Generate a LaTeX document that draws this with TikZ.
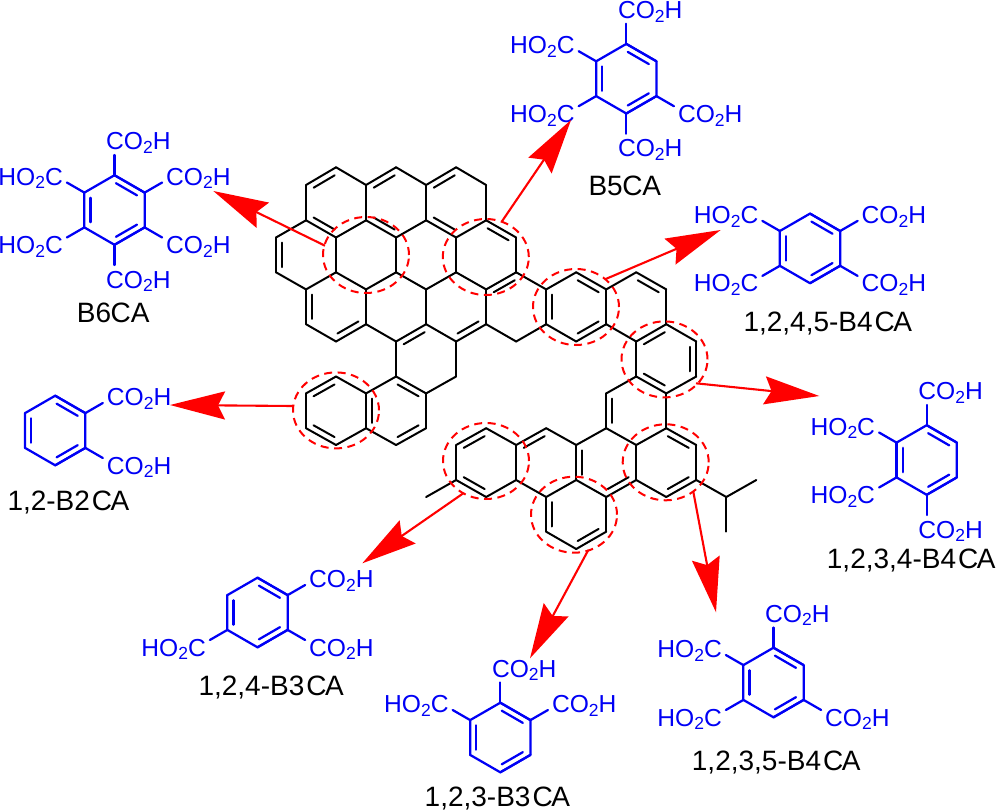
\documentclass[tikz,border=0pt]{standalone}
\usepackage{fontspec}
\setmainfont{Liberation Sans}
\usetikzlibrary{calc,arrows.meta,shapes.geometric}
\definecolor{acidblue}{RGB}{0,0,245}
\definecolor{markred}{RGB}{255,0,0}
\newcommand\cooh{CO\lower3.8pt\hbox{\fontsize{17.5}{17.5}\selectfont 2}H}
\newcommand\hooc{HO\lower3.8pt\hbox{\fontsize{17.5}{17.5}\selectfont 2}C}
\newcommand\ca{\kern2pt C\kern-1.5pt A}
\tikzset{
  bondk/.style={line width=2pt,line cap=round,line join=round,black},
  ringbond/.style={line width=2.25pt,line cap=round,line join=round,acidblue},
  acid/.style={text=acidblue,inner sep=0pt,font=\fontsize{24.6}{24.6}\selectfont},
  lab/.style={text=black,inner sep=0pt,anchor=base west,font=\fontsize{28}{28}\selectfont},
  marker/.style={draw=markred,ellipse,line width=2pt,dash pattern=on 8pt off 5.5pt,minimum width=86pt,minimum height=76pt,inner sep=0pt},
  pointer/.style={draw=markred,line width=2.1pt,-{Stealth[length=55pt,width=28pt,inset=7pt,fill=markred]}}
}
\newcommand\dbl[3][bondk]{%
  \draw[#1] (#2) -- (#3);
  \draw[#1] ($(#2)!.15!(#3)!6.2pt!90:(#3)$) -- ($(#3)!.15!(#2)!6.2pt!-90:(#2)$);}
\newcommand\benzene[3]{% name, cx, cy
  \coordinate (#1) at (#2,#3);
  \foreach \k/\ang in {0/90,1/30,2/-30,3/-90,4/-150,5/150}{
    \coordinate (#1-\k) at ($(#1)+(\ang:34.8pt)$);
    \coordinate (#1-s\k) at ($(#1)+(\ang:55pt)$);
  }
  \draw[ringbond] (#1-0) -- (#1-1) -- (#1-2) -- (#1-3) -- (#1-4) -- (#1-5) -- cycle;
  \dbl[ringbond]{#1-1}{#1-0}
  \dbl[ringbond]{#1-3}{#1-2}
  \dbl[ringbond]{#1-5}{#1-4}
}
\newcommand\acidgroup[2]{%
  \pgfmathsetmacro\gx{{-8.5,51.5,51.5,-8.5,-51.5,-51.5}[#2]}
  \pgfmathsetmacro\gy{{-60.5,-25,43.5,78,43.5,-25}[#2]}
  \ifnum#2<4
    \node[acid,anchor=base west] (#1-t#2) at ($(#1)+(\gx,\gy)$) {\cooh};
  \else
    \node[acid,anchor=base east] (#1-t#2) at ($(#1)+(\gx,\gy)$) {\hooc};
  \fi
  \draw[ringbond] (#1-#2) -- (#1-s#2);
}
\begin{document}
\begin{tikzpicture}[x=1pt,y=-1pt]
\useasboundingbox (0,0) rectangle (998,811);
% lattice of the large molecule
\foreach \j/\yy in {0/167.3,1/185,2/220.3,3/237.5,4/272.3,5/289.4,6/324.2,7/341.5,8/376.5,9/393.4,10/428.2,11/445,12/480,13/497,14/531.7,15/549}{
  \foreach \i in {0,...,16}{
    \pgfmathsetmacro\xx{276+30.02*\i}
    \coordinate (v-\i-\j) at (\xx,\yy);
  }
}
\foreach \a/\b in {2-0/3-1,3-1/3-2,1-1/1-2,2-3/3-2,2-3/2-4,4-0/5-1,5-1/5-2,5-2/4-3,4-3/4-4,6-0/7-1,7-1/7-2,7-2/6-3,6-3/6-4,
  0-3/1-2,0-4/1-5,1-5/2-4,2-4/3-5,3-5/4-4,4-4/5-5,5-5/6-4,6-4/7-5,8-3/8-4,8-4/9-5,9-6/8-7,8-7/7-6,7-6/7-5,
  1-6/2-7,3-6/3-5,3-6/4-7,5-6/5-5,5-6/6-7,4-7/4-8,6-7/6-8,5-9/6-8,4-8/3-9,3-10/4-11,5-10/5-9,3-9/2-8,3-10/2-11,1-10/1-9,
  9-5/10-4,11-5/11-6,10-7/9-6,11-5/12-4,13-5/13-6,12-7/11-6,13-6/14-7,14-8/13-9,12-8/12-7,12-8/11-9,13-9/13-10,11-10/12-11,12-11/13-10,14-11/14-12,13-13/12-12,12-12/12-11,14-12/15-13,15-13/16-12,15-13/15-14,11-10/10-11,10-12/11-13,10-11/9-10,8-11/7-10,6-11/6-12,7-13/8-12,8-12/8-11,6-12/5-13,8-12/9-13,9-13/10-12,9-14/10-15,11-14/11-13}{
  \draw[bondk] (v-\a) -- (v-\b);
}
\foreach \a/\b in {2-0/1-1,1-2/2-3,4-0/3-1,3-2/4-3,6-0/5-1,5-2/6-3,0-3/0-4,8-3/7-2,8-4/7-5,9-5/9-6,1-5/1-6,2-7/3-6,5-6/4-7,6-7/7-6,5-9/4-8,3-9/3-10,4-11/5-10,2-8/1-9,1-10/2-11,
  11-5/10-4,10-7/11-6,13-5/12-4,13-6/12-7,14-8/14-7,12-8/13-9,11-9/11-10,14-11/13-10,13-13/14-12,10-11/10-12,11-13/12-12,9-10/8-11,7-10/6-11,6-12/7-13,9-13/9-14,10-15/11-14}{
  \dbl{v-\a}{v-\b}
}
% acids
\benzene{bsix}{114.5}{210}
\foreach \k in {0,...,5}{\acidgroup{bsix}{\k}}
\node[lab] (lsix) at (76.7,322.7) {B6\kern-.5pt CA};
\benzene{bfive}{626.3}{78.7}
\foreach \k in {0,2,3,4,5}{\acidgroup{bfive}{\k}}
\node[lab] (lfive) at (588.3,195.7) {B5\kern-.5pt CA};
\benzene{ftf}{810}{248.4}
\foreach \k in {1,2,4,5}{\acidgroup{ftf}{\k}}
\node[lab] (lftf) at (743.3,331.7) {1,2,4,5-B4\ca};
\benzene{ott}{926.7}{460}
\foreach \k in {0,3,4,5}{\acidgroup{ott}{\k}}
\node[lab] (lott) at (826.7,568.3) {1,2,3,4-B4\ca};
\benzene{ottf}{773.5}{682.5}
\foreach \k in {0,2,4,5}{\acidgroup{ottf}{\k}}
\node[lab] (lottf) at (691.7,770.7) {1,2,3,5-B4\ca};
\benzene{three}{500.3}{737.5}
\foreach \k in {0,1,5}{\acidgroup{three}{\k}}
\node[lab] (lthree) at (424.5,806.5) {1,2,3-B3\ca};
\benzene{tfour}{257.5}{612.5}
\foreach \k in {1,2,4}{\acidgroup{tfour}{\k}}
\node[lab] (ltfour) at (198.3,695.7) {1,2,4-B3\ca};
\benzene{two}{55.2}{430.5}
\foreach \k in {1,2}{\acidgroup{two}{\k}}
\node[lab] (ltwo) at (7.3,510.7) {1,2-B2\ca};
% dashed rings
\node[marker] (ma) at (366,255) {};
\node[marker] (mb) at (485.8,257) {};
\node[marker] (mc) at (576,307) {};
\node[marker] (md) at (664.5,359.4) {};
\node[marker] (me) at (665.7,462.3) {};
\node[marker] (mf) at (486,461) {};
\node[marker] (mg) at (574,514.7) {};
\node[marker] (mh) at (336,410.4) {};
% pointers
\foreach \n/\sx/\sy/\tx/\ty in {a/325/245.7/213.3/191,b/501.7/221.7/571/120,c/605/279.3/720.7/230,d/696/383.3/819.3/396,e/693.3/491.7/716/612.3,f/588.3/550/530/658.3,g/463.3/493.3/362.3/563.3,h/293.3/406/170/405}{
  \coordinate (s\n) at (\sx,\sy);
  \coordinate (t\n) at (\tx,\ty);
  \draw[pointer] (s\n) -- (t\n);
}
\end{tikzpicture}
\end{document}
